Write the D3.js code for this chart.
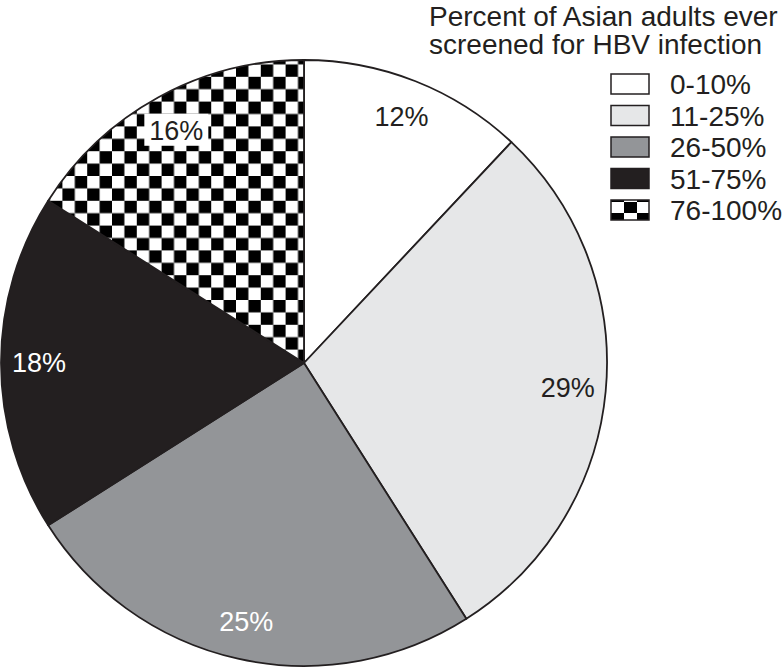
<!DOCTYPE html>
<html>
<head>
<meta charset="utf-8">
<script src="https://cdn.jsdelivr.net/npm/d3@7"></script>
<style>
  body { margin: 0; background: #fff; }
  svg { display: block; font-family: "Liberation Sans", Arial, sans-serif; }
</style>
</head>
<body>
<script>
// categories and values (clockwise from 12 o'clock)
const categories = ['0-10%', '11-25%', '26-50%', '51-75%', '76-100%'];
const shares = [12, 29, 25, 18, 16];
const titleLines = ['Percent of Asian adults ever', 'screened for HBV infection'];

const width = 784;
const height = 669;
const cx = 304, cy = 363, r = 303;

const svg = d3.select('body').append('svg')
    .attr('width', width)
    .attr('height', height);

// checker pattern for the last class
const defs = svg.append('defs');
const sq = 12.4;
const pat = defs.append('pattern')
    .attr('id', 'checker')
    .attr('patternUnits', 'userSpaceOnUse')
    .attr('x', cx).attr('y', cy - r + 1)
    .attr('width', sq * 2).attr('height', sq * 2);
pat.append('rect').attr('width', sq * 2).attr('height', sq * 2).attr('fill', '#fff');
pat.append('rect').attr('x', sq).attr('y', 0).attr('width', sq).attr('height', sq).attr('fill', '#000');
pat.append('rect').attr('x', 0).attr('y', sq).attr('width', sq).attr('height', sq).attr('fill', '#000');

const legPat = defs.append('pattern')
    .attr('id', 'checkerLegend')
    .attr('patternUnits', 'userSpaceOnUse')
    .attr('x', 611).attr('y', 200)
    .attr('width', 26).attr('height', 22);
legPat.append('rect').attr('width', 26).attr('height', 22).attr('fill', '#fff');
legPat.append('rect').attr('x', 0).attr('y', 0).attr('width', 13).attr('height', 11).attr('fill', '#000');
legPat.append('rect').attr('x', 13).attr('y', 11).attr('width', 13).attr('height', 11).attr('fill', '#000');

const color = d3.scaleOrdinal()
    .domain(categories)
    .range(['#ffffff', '#e6e7e8', '#939598', '#231f20', 'url(#checker)']);
const textColor = d3.scaleOrdinal()
    .domain(categories)
    .range(['#231f20', '#231f20', '#ffffff', '#ffffff', '#231f20']);

const data = categories.map((c, i) => ({ cat: c, value: shares[i] }));

const pie = d3.pie().sort(null).value(d => d.value);
const arc = d3.arc().innerRadius(0).outerRadius(r);
const labelArc = d3.arc().innerRadius(265).outerRadius(265);

const g = svg.append('g').attr('transform', `translate(${cx},${cy})`);

g.selectAll('path')
    .data(pie(data))
    .join('path')
    .attr('d', arc)
    .attr('fill', d => color(d.data.cat))
    .attr('stroke', '#231f20')
    .attr('stroke-width', 1.8)
    .attr('stroke-linejoin', 'round');

const labels = g.selectAll('g.lab')
    .data(pie(data))
    .join('g')
    .attr('class', 'lab')
    .attr('transform', d => `translate(${labelArc.centroid(d)})`);

// white knock-out behind the label on the checker slice
labels.filter(d => d.data.cat === '76-100%')
    .append('rect')
    .attr('x', -32).attr('y', -17)
    .attr('width', 64).attr('height', 32)
    .attr('fill', '#fff');

labels.append('text')
    .attr('text-anchor', 'middle')
    .attr('dy', '0.35em')
    .attr('font-size', 27)
    .attr('fill', d => textColor(d.data.cat))
    .text(d => d.data.value + '%');

// legend
const legend = svg.append('g');
legend.selectAll('text.title')
    .data(titleLines)
    .join('text')
    .attr('class', 'title')
    .attr('x', 429)
    .attr('y', (d, i) => 26 + i * 28)
    .attr('font-size', 28)
    .attr('fill', '#231f20')
    .text(d => d);

const ly = d3.scalePoint().domain(categories).range([74, 200]);

const items = legend.selectAll('g.item')
    .data(categories)
    .join('g')
    .attr('class', 'item')
    .attr('transform', d => `translate(611,${ly(d)})`);

items.append('rect')
    .attr('width', 38)
    .attr('height', 20)
    .attr('fill', (d, i) => i === 4 ? 'url(#checkerLegend)' : color(d))
    .attr('stroke', '#231f20')
    .attr('stroke-width', 1.5);

items.append('text')
    .attr('x', 59)
    .attr('y', 20)
    .attr('font-size', 28)
    .attr('fill', '#231f20')
    .text(d => d);
</script>
</body>
</html>
